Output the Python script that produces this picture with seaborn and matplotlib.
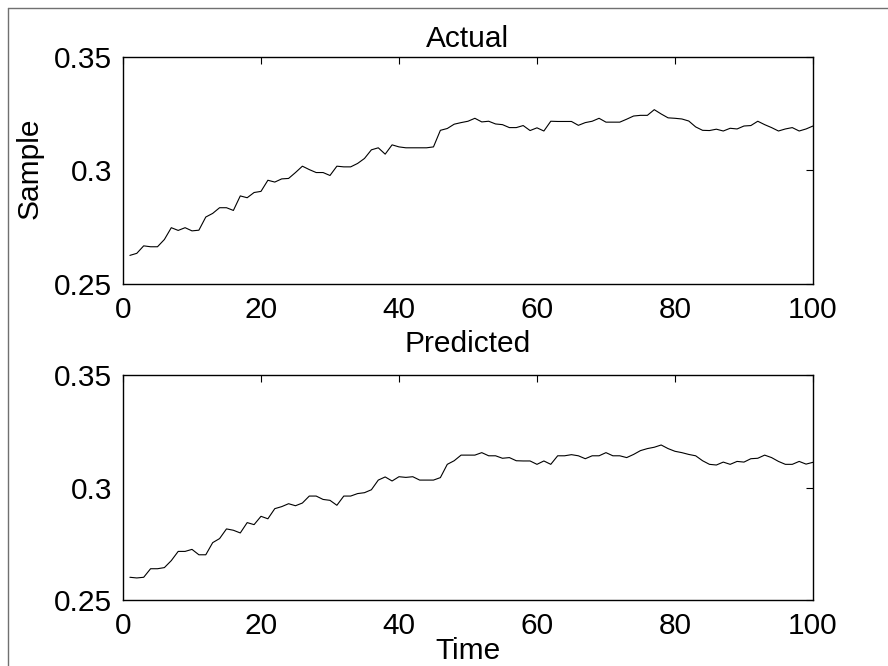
import numpy as np
import pandas as pd
import matplotlib
matplotlib.use("Agg")
import matplotlib.pyplot as plt
from matplotlib.lines import Line2D
from matplotlib.ticker import FormatStrFormatter
import seaborn as sns

# time steps 1..100
time = list(range(1, 101))

actual = [
    0.2626, 0.2635, 0.2668, 0.2664, 0.2664, 0.2696, 0.2748, 0.2736, 0.2748, 0.2734,
    0.2737, 0.2795, 0.2811, 0.2836, 0.2836, 0.2824, 0.2888, 0.2880, 0.2903, 0.2908,
    0.2957, 0.2949, 0.2963, 0.2965, 0.2991, 0.3019, 0.3004, 0.2991, 0.2991, 0.2978,
    0.3019, 0.3016, 0.3016, 0.3031, 0.3053, 0.3091, 0.3100, 0.3072, 0.3113, 0.3104,
    0.3100, 0.3100, 0.3100, 0.3100, 0.3104, 0.3177, 0.3185, 0.3204, 0.3211, 0.3217,
    0.3230, 0.3214, 0.3217, 0.3205, 0.3202, 0.3189, 0.3189, 0.3198, 0.3176, 0.3188,
    0.3174, 0.3217, 0.3216, 0.3216, 0.3216, 0.3199, 0.3211, 0.3217, 0.3230, 0.3213,
    0.3213, 0.3213, 0.3226, 0.3240, 0.3243, 0.3243, 0.3268, 0.3249, 0.3232, 0.3230,
    0.3227, 0.3218, 0.3192, 0.3177, 0.3176, 0.3182, 0.3174, 0.3186, 0.3183, 0.3196,
    0.3198, 0.3217, 0.3202, 0.3189, 0.3174, 0.3183, 0.3189, 0.3174, 0.3183, 0.3196,
]

predicted = [
    0.2601, 0.2598, 0.2601, 0.2639, 0.2639, 0.2644, 0.2675, 0.2716, 0.2716, 0.2725,
    0.2701, 0.2701, 0.2755, 0.2773, 0.2816, 0.2810, 0.2798, 0.2844, 0.2835, 0.2872,
    0.2861, 0.2906, 0.2915, 0.2928, 0.2919, 0.2931, 0.2962, 0.2962, 0.2947, 0.2943,
    0.2921, 0.2962, 0.2962, 0.2973, 0.2977, 0.2990, 0.3033, 0.3047, 0.3029, 0.3048,
    0.3045, 0.3048, 0.3033, 0.3033, 0.3033, 0.3044, 0.3103, 0.3119, 0.3144, 0.3144,
    0.3144, 0.3155, 0.3141, 0.3141, 0.3130, 0.3133, 0.3119, 0.3118, 0.3118, 0.3103,
    0.3118, 0.3103, 0.3141, 0.3141, 0.3146, 0.3141, 0.3128, 0.3141, 0.3141, 0.3155,
    0.3141, 0.3141, 0.3133, 0.3147, 0.3164, 0.3173, 0.3179, 0.3189, 0.3173, 0.3161,
    0.3155, 0.3147, 0.3141, 0.3119, 0.3103, 0.3100, 0.3113, 0.3103, 0.3116, 0.3113,
    0.3128, 0.3130, 0.3144, 0.3133, 0.3116, 0.3103, 0.3103, 0.3116, 0.3104, 0.3112,
]

xticks = [0, 20, 40, 60, 80, 100]
yticks = [0.25, 0.3, 0.35]

sns.set_style("white")
plt.rcParams['font.family'] = ['Liberation Sans', 'DejaVu Sans']
plt.rcParams['text.color'] = 'black'
plt.rcParams['axes.labelcolor'] = 'black'
plt.rcParams['axes.titlecolor'] = 'black'
fs = 21.5

fig = plt.figure(figsize=(8.88, 6.66), dpi=100)
ax1 = fig.add_axes([0.1385, 0.5736, 0.777, 0.3408])
ax2 = fig.add_axes([0.1385, 0.0991, 0.777, 0.3378])

df = pd.DataFrame({'Time': time, 'Actual': actual, 'Predicted': predicted})

for ax, col in [(ax1, 'Actual'), (ax2, 'Predicted')]:
    sns.lineplot(data=df, x='Time', y=col, ax=ax, color='black', linewidth=0.8)
    ax.set_xlim(0, 100)
    ax.set_ylim(0.25, 0.35)
    ax.set_xticks(xticks)
    ax.set_yticks(yticks)
    ax.yaxis.set_major_formatter(FormatStrFormatter('%g'))
    ax.tick_params(direction='in', length=5, width=0.8, top=True, right=True,
                   labelsize=fs, colors='black')
    ax.tick_params(axis='x', pad=9)
    ax.tick_params(axis='y', pad=8)
    for s in ax.spines.values():
        s.set_visible(True)
        s.set_color('black')
        s.set_linewidth(1.0)
    ax.set_xlabel('')
    ax.set_ylabel('')

ax1.set_title('Actual', fontsize=fs, pad=7, color='black')
ax2.set_title('Predicted', fontsize=fs, pad=16.5, color='black')

ax1.set_ylabel('Sample', fontsize=fs, color='black')
ax1.yaxis.set_label_coords(-0.135, 0.51)
ax1.yaxis.label.set_va('center')

ax2.set_xlabel('Time', fontsize=fs, color='black')
ax2.xaxis.set_label_coords(0.5, -0.262)
ax2.xaxis.label.set_va('baseline')

# grey frame on the left and top edge of the screenshot
fig.add_artist(Line2D([7.5 / 888, 7.5 / 888], [0, 1 - 7.5 / 666], transform=fig.transFigure,
                      color='#707070', linewidth=1.0))
fig.add_artist(Line2D([7.5 / 888, 1], [1 - 7.5 / 666, 1 - 7.5 / 666], transform=fig.transFigure,
                      color='#707070', linewidth=1.0))

plt.savefig('out.png', dpi=100)
plt.close()
